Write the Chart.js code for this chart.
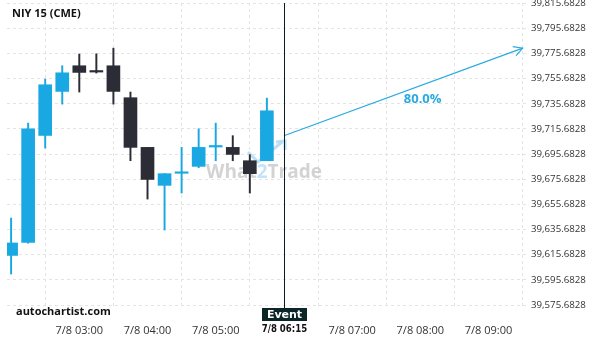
<!DOCTYPE html>
<html><head><meta charset="utf-8">
<script src="https://cdn.jsdelivr.net/npm/chart.js@4.4.1/dist/chart.umd.min.js"></script>
<style>html,body{margin:0;padding:0;background:#fff}#c{display:block}</style>
</head><body>
<canvas id="c" width="600" height="340"></canvas>
<script>
// ---- data ----
const candleTimes = ['02:00','02:15','02:30','02:45','03:00','03:15','03:30','03:45','04:00','04:15','04:30','04:45','05:00','05:15','05:30','05:45'];
const opens  = [39615.1, 39625.5, 39710.5, 39745.5, 39765.9, 39761.4, 39765.9, 39740.5, 39701.0, 39670.8, 39680.4, 39685.9, 39701.3, 39701.0, 39690.4, 39690.4];
const highs  = [39644.8, 39720.3, 39755.3, 39765.9, 39775.2, 39775.4, 39779.9, 39745.0, 39701.0, 39680.1, 39701.0, 39715.8, 39720.3, 39710.3, 39695.2, 39740.2];
const lows   = [39600.3, 39624.8, 39700.5, 39735.4, 39745.0, 39760.1, 39735.4, 39690.4, 39659.9, 39635.3, 39664.7, 39684.8, 39690.4, 39690.4, 39664.7, 39690.4];
const closes = [39625.0, 39715.8, 39750.8, 39760.3, 39760.6, 39760.9, 39745.5, 39701.0, 39675.5, 39680.1, 39680.8, 39701.0, 39701.7, 39695.4, 39680.1, 39730.1];
const xTickTimes  = ['03:00','04:00','05:00','06:00','07:00','08:00','09:00'];
const xTickLabels = ['7/8 03:00','7/8 04:00','7/8 05:00','7/8 06:15','7/8 07:00','7/8 08:00','7/8 09:00'];
const yTickValues = [39575.6828,39595.6828,39615.6828,39635.6828,39655.6828,39675.6828,39695.6828,39715.6828,39735.6828,39755.6828,39775.6828,39795.6828,39815.6828];
const eventTime = '06:00';
const eventLabel = 'Event';
const forecastTimes  = ['06:00','09:30'];
const forecastValues = [39710.25, 39779.95];
const forecastLabel = '80.0%';
const forecastLabelPos = ['08:02', 39739.2];
const titleText = 'NIY 15 (CME)';
const sourceText = 'autochartist.com';
const xRange = ['01:56.4','09:34.7'];
const yRange = [39573.3, 39815.8];

// ---- helpers ----
function mins(s){const [h,m]=s.split(':');return (+h)*60+parseFloat(m);}
const BLUE='#1aa8e2', DARK='#2b2c35', ARROW='#2aaae2';
const candleX = candleTimes.map(mins);
const isUp = opens.map((o,i)=>closes[i]>=o);
const candleColors = isUp.map(u=>u?BLUE:DARK);
const tickMins = xTickTimes.map(mins);
const evX = mins(eventTime);
const evTickLabel = xTickLabels[tickMins.indexOf(evX)];

const overlay = {
  id:'overlay',
  beforeDatasetsDraw(chart){
    const {ctx} = chart;
    ctx.save();
    const cx = 264, cy = 173;
    ctx.font = 'bold 19px "Open Sans", sans-serif';
    ctx.textBaseline='middle';
    const p1='What', p2='2', p3='Trade';
    const w1=ctx.measureText(p1).width, w2=ctx.measureText(p2).width, w3=ctx.measureText(p3).width;
    let sx = cx-(w1+w2+w3)/2;
    ctx.fillStyle='rgba(200,200,200,0.8)'; ctx.fillText(p1,sx,cy);
    ctx.fillStyle='rgba(180,220,245,0.8)'; ctx.fillText(p2,sx+w1,cy);
    ctx.fillStyle='rgba(200,200,200,0.8)'; ctx.fillText(p3,sx+w1+w2,cy);
    ctx.strokeStyle='rgba(180,220,245,0.9)'; ctx.lineWidth=3;
    ctx.beginPath(); ctx.moveTo(248,152); ctx.lineTo(258,162); ctx.lineTo(282,142); ctx.stroke();
    ctx.beginPath(); ctx.moveTo(276,142); ctx.lineTo(285,141); ctx.lineTo(285,150); ctx.stroke();
    ctx.restore();
  },
  afterDatasetsDraw(chart){
    const {ctx, chartArea:a, scales:{x,y}} = chart;
    ctx.save();
    const ex = Math.round(x.getPixelForValue(evX))+0.5;
    ctx.strokeStyle='#0b1d22'; ctx.lineWidth=1;
    ctx.beginPath(); ctx.moveTo(ex,a.top); ctx.lineTo(ex,a.bottom); ctx.stroke();
    ctx.font='bold 11px "DejaVu Sans", sans-serif';
    ctx.fillStyle='#0c2527';
    ctx.fillRect(ex-22.5, a.bottom, 45, 13);
    ctx.fillStyle='#fff'; ctx.textAlign='center'; ctx.textBaseline='middle';
    ctx.fillText(eventLabel, ex, a.bottom+7);
    // condensed bold event tick label
    ctx.save();
    ctx.translate(ex, 329.5); ctx.scale(0.78, 1);
    ctx.fillStyle='#111'; ctx.font='bold 11px "DejaVu Sans", sans-serif';
    ctx.fillText(evTickLabel, 0, 0);
    ctx.restore();
    const x0=x.getPixelForValue(mins(forecastTimes[0])), y0=y.getPixelForValue(forecastValues[0]);
    const x1=x.getPixelForValue(mins(forecastTimes[1])), y1=y.getPixelForValue(forecastValues[1]);
    const ang=Math.atan2(y1-y0,x1-x0), L=10;
    ctx.strokeStyle=ARROW; ctx.lineWidth=1.2;
    ctx.beginPath();
    ctx.moveTo(x1-L*Math.cos(ang-0.5), y1-L*Math.sin(ang-0.5));
    ctx.lineTo(x1,y1);
    ctx.lineTo(x1-L*Math.cos(ang+0.5), y1-L*Math.sin(ang+0.5));
    ctx.stroke();
    ctx.fillStyle=ARROW; ctx.font='bold 13px "Open Sans", sans-serif';
    ctx.fillText(forecastLabel, x.getPixelForValue(mins(forecastLabelPos[0])), y.getPixelForValue(forecastLabelPos[1]));
    ctx.textAlign='left'; ctx.fillStyle='#111';
    ctx.font='bold 11px "Open Sans", sans-serif';
    ctx.fillText(titleText, 12, 14);
    ctx.fillText(sourceText, 16, 311.5);
    ctx.restore();
  }
};

function noPad(s){ s.paddingTop=0; s.paddingBottom=0; s.paddingLeft=0; s.paddingRight=0; }

new Chart(document.getElementById('c'), {
  type:'bar',
  data:{
    datasets:[
      { type:'line', data: forecastTimes.map((t,i)=>({x:mins(t), y:forecastValues[i]})),
        borderColor:ARROW, borderWidth:1.2, pointRadius:0, fill:false, clip:false, order:0 },
      { data: candleX.map((t,i)=>({x:t, y:[lows[i], highs[i]]})),
        backgroundColor:candleColors, barThickness:1.3, grouped:false, order:2 },
      { data: candleX.map((t,i)=>({x:t, y:[opens[i], closes[i]]})),
        backgroundColor:candleColors, barThickness:13, minBarLength:1.5, grouped:false, order:1 }
    ]
  },
  options:{
    responsive:false, animation:false, devicePixelRatio:1,
    layout:{padding:{top:3,left:7,right:0,bottom:0}},
    plugins:{legend:{display:false}, tooltip:{enabled:false}},
    scales:{
      x:{type:'linear', offset:false, min:mins(xRange[0]), max:mins(xRange[1]),
        afterBuildTicks(s){ s.ticks = tickMins.map(v=>({value:v})); },
        afterFit(s){ s.height = 32; noPad(s); },
        grid:{color:'#e4e4e4', drawTicks:false},
        border:{display:false, dash:[3,3]},
        ticks:{padding:16, maxRotation:0, autoSkip:false, color:'#333',
          font:{family:'"Open Sans", sans-serif', size:11},
          callback:(v)=>{ if (v===evX) return ''; const i=tickMins.indexOf(v); return i>=0?xTickLabels[i]:''; } }
      },
      y:{type:'linear', position:'right', min:yRange[0], max:yRange[1],
        afterBuildTicks(s){ s.ticks = yTickValues.map(v=>({value:v})); },
        afterFit(s){ s.width = 72; noPad(s); },
        grid:{color:'#e4e4e4', drawTicks:false},
        border:{display:false, dash:[3,3]},
        ticks:{padding:3, color:'#333', font:{family:'"Open Sans", sans-serif', size:9.7},
          callback:(v)=> v.toLocaleString('en-US',{minimumFractionDigits:4, maximumFractionDigits:4}) }
      }
    }
  },
  plugins:[overlay]
});
</script>
</body></html>
